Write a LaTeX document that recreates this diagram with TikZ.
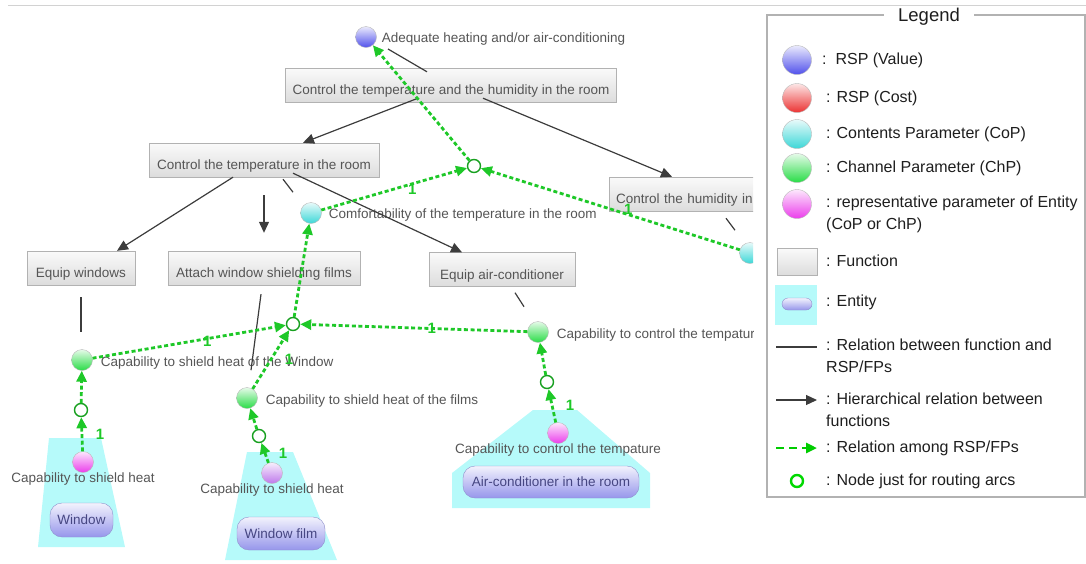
\documentclass[tikz,border=0pt]{standalone}
\usepackage{fontspec}
\setmainfont{Liberation Sans}
\usetikzlibrary{arrows.meta}
\definecolor{txtgray}{RGB}{85,85,85}
\definecolor{legtext}{RGB}{30,30,30}
\definecolor{linegray}{RGB}{60,60,60}
\definecolor{fpgreen}{RGB}{30,200,40}
\definecolor{entcyan}{RGB}{182,250,250}
\definecolor{rspblue}{RGB}{80,80,235}
\definecolor{rspred}{RGB}{235,50,50}
\definecolor{copcyan}{RGB}{60,215,215}
\definecolor{chpgreen}{RGB}{40,220,70}
\definecolor{repmag}{RGB}{235,60,235}
\definecolor{repfilm}{RGB}{190,120,235}
\definecolor{entblue}{RGB}{150,150,235}
\definecolor{enttext}{RGB}{70,70,130}
\newcommand{\dfont}{\fontsize{13.5}{16}\selectfont}
\newcommand{\lfont}{\fontsize{16}{22}\selectfont}
\begin{document}
\begin{tikzpicture}[x=1pt,y=-1pt,>={Triangle[length=11pt,width=10pt]},
  fn/.style={draw=gray!60,top color=gray!4,bottom color=gray!27,text=txtgray,font=\dfont,minimum height=34pt,inner sep=0pt,text height=19pt,text depth=0pt},
  ent/.style={draw=entblue!70!gray,rounded corners=12pt,top color=entblue!12,bottom color=entblue,text=enttext,font=\dfont,inner sep=0pt},
  param/.style={circle,draw=gray!55,minimum size=21pt,inner sep=0pt},
  rspv/.style={param,top color=rspblue!12,bottom color=rspblue},
  rspc/.style={param,top color=rspred!12,bottom color=rspred},
  cop/.style={param,top color=copcyan!12,bottom color=copcyan},
  chp/.style={param,top color=chpgreen!12,bottom color=chpgreen},
  rep/.style={param,top color=repmag!12,bottom color=repmag},
  route/.style={circle,draw=fpgreen!80!black,fill=white,line width=1.4pt,minimum size=13pt,inner sep=0pt},
  lbl/.style={text=txtgray,font=\dfont,inner sep=1pt},
  hier/.style={->,draw=linegray,line width=1.2pt},
  rel/.style={draw=linegray,line width=1.2pt},
  fp/.style={->,draw=fpgreen,line width=2.8pt,dash pattern=on 4pt off 2.6pt},
  one/.style={text=fpgreen,font=\fontsize{15}{15}\selectfont\bfseries,xshift=18pt,inner sep=0pt},
  leg/.style={anchor=west,align=left,font=\lfont,text=legtext,inner sep=0pt}]
  \useasboundingbox (0,0) rectangle (1086,563);
  \draw[gray!35,line width=1pt] (8,5) -- (1086,5);
  \begin{scope}
    \clip (0,0) rectangle (753,563);
    \fill[entcyan] (49,438) -- (101,438) -- (125,547) -- (38,547) -- cycle;
    \fill[entcyan] (247,452) -- (293,452) -- (337,560) -- (225,560) -- cycle;
    \fill[entcyan] (533,410) -- (577,410) -- (650,473) -- (650,508) -- (452,508) -- (452,473) -- cycle;
    \node[fn,minimum width=331pt] (ctrlTH) at (451,85) {Control the temperature and the humidity in the room};
    \node[fn,minimum width=230pt] (ctrlT) at (264,160) {Control the temperature in the room};
    \node[fn,anchor=west,text width=146pt,inner xsep=7pt,align=left] (ctrlH) at (609,194) {Control the humidity in};
    \node[fn,minimum width=108pt] (eqWin) at (81,268) {Equip windows};
    \node[fn,minimum width=192pt] (attFilm) at (264,268) {Attach window shielding films};
    \node[fn,minimum width=146pt] (eqAC) at (502,269.5) {Equip air-conditioner};
    \node[ent,minimum width=63pt,minimum height=34pt] (window) at (81.5,520) {Window};
    \node[ent,minimum width=88pt,minimum height=33pt] (film) at (281,533.5) {Window film};
    \node[ent,minimum width=176pt,minimum height=32pt] (aircon) at (551,482) {Air-conditioner in the room};
    \node[rspv,label={[lbl,label distance=4pt,yshift=-2pt]right:Adequate heating and/or air-conditioning}] (heat) at (366,37) {};
    \node[cop,label={[lbl,label distance=6pt,yshift=-2pt]right:Comfortability of the temperature in the room}] (comfort) at (311,213) {};
    \node[cop] (humid) at (750,253) {};
    \node[chp,label={[lbl,label distance=7pt,yshift=-3pt]right:Capability to shield heat of the Window}] (shieldWin) at (82,360) {};
    \node[chp,label={[lbl,label distance=7pt,yshift=-3pt]right:Capability to shield heat of the films}] (shieldFilm) at (247,398) {};
    \node[chp,label={[lbl,label distance=7pt,yshift=-3pt]right:Capability to control the tempatur}] (ctrlAC) at (538,332) {};
    \node[rep,label={[lbl,label distance=-1pt]below:Capability to shield heat}] (pWin) at (83,462) {};
    \node[param,top color=repfilm!12,bottom color=repfilm,label={[lbl,label distance=-1pt]below:Capability to shield heat}] (pFilm) at (272,473) {};
    \node[rep,label={[lbl,label distance=-1pt]below:Capability to control the tempature}] (pAC) at (558,433) {};
    \node[route] (r1) at (474,166) {};
    \node[route] (r2) at (293,324) {};
    \node[route] (r3) at (81,410) {};
    \node[route] (r4) at (259,436) {};
    \node[route] (r5) at (547,382) {};
    \draw[hier] ([xshift=-33pt,yshift=4pt]ctrlTH.south) -- ([xshift=39pt]ctrlT.north);
    \draw[hier] ([xshift=32pt,yshift=4pt]ctrlTH.south) -- ([xshift=63pt]ctrlH.north west);
    \draw[hier] ([xshift=-31pt]ctrlT.south) -- ([xshift=36pt]eqWin.north);
    \draw[hier] ([xshift=29pt,yshift=4pt]ctrlT.south) -- ([xshift=-40pt]eqAC.north);
    \draw[hier] ([yshift=-18pt]ctrlT.south) -- ([yshift=18pt]attFilm.north);
    \draw[rel] ([xshift=22pt,yshift=-12pt]heat.center) -- ([xshift=-24pt,yshift=-4pt]ctrlTH.north);
    \draw[rel] ([xshift=19pt,yshift=-2pt]ctrlT.south) -- ++(10,13);
    \draw[rel] ([xshift=117pt,yshift=-7pt]ctrlH.south west) -- ++(9,12);
    \draw[rel] ([xshift=13pt,yshift=-6pt]eqAC.south) -- ++(9,14);
    \draw[rel] ([yshift=-12pt]eqWin.south) -- ++(0,35);
    \draw[rel] ([xshift=-3pt,yshift=-9pt]attFilm.south) -- ++(-10,76);
    \draw[fp] (r1) -- (heat);
    \draw[fp] (comfort) -- node[one]{1} (r1);
    \draw[fp] (humid) -- node[one]{1} (r1);
    \draw[fp] (r2) -- (comfort);
    \draw[fp] (shieldWin) -- node[one]{1} (r2);
    \draw[fp] (shieldFilm) -- node[one]{1} (r2);
    \draw[fp] (ctrlAC) -- node[one]{1} (r2);
    \draw[fp] (r3) -- (shieldWin);
    \draw[fp] (pWin) -- node[one]{1} (r3);
    \draw[fp] (r4) -- (shieldFilm);
    \draw[fp] (pFilm) -- node[one]{1} (r4);
    \draw[fp] (r5) -- (ctrlAC);
    \draw[fp] (pAC) -- node[one]{1} (r5);
  \end{scope}
  \draw[gray!60,line width=1.2pt] (767,15) rectangle (1085,497);
  \node[fill=white,font=\fontsize{18.5}{20}\selectfont,text=legtext,inner xsep=14pt,inner ysep=2pt] (legTitle) at (929,17) {Legend};
  \node[rspv,minimum size=29pt] (kValue) at (797,60) {};
  \node[rspc,minimum size=29pt] (kCost) at (797,98) {};
  \node[cop,minimum size=29pt] (kCoP) at (797,134) {};
  \node[chp,minimum size=29pt] (kChP) at (797,168) {};
  \node[rep,minimum size=29pt] (kRep) at (797,204) {};
  \node[fn,minimum width=40pt,minimum height=27pt] (kFn) at (797,261.5) {};
  \fill[entcyan] (775,285) rectangle (817,325);
  \node[ent,minimum width=30pt,minimum height=12pt,rounded corners=6pt] (kEnt) at (797,304) {};
  \draw[rel] (776,347) -- (817,347);
  \draw[hier] (776,400) -- (817,400);
  \draw[fp,draw=green!80!black,dash pattern=on 8pt off 5pt] (776,448) -- (817,448);
  \node[route,draw=green!85!black,line width=2.4pt,minimum size=12pt] (kRoute) at (797,481) {};
  \node[leg] (tValue) at (822,60) {:\ \ RSP (Value)};
  \node[leg] (tCost) at (826,98) {: RSP (Cost)};
  \node[leg] (tCoP) at (826,134) {: Contents Parameter (CoP)};
  \node[leg] (tChP) at (826,168) {: Channel Parameter (ChP)};
  \node[leg] (tRep) at (826,214) {: representative parameter of Entity\\(CoP or ChP)};
  \node[leg] (tFn) at (826,261) {: Function};
  \node[leg] (tEnt) at (826,302) {: Entity};
  \node[leg] (tRel) at (826,356) {: Relation between function and\\RSP/FPs};
  \node[leg] (tHier) at (826,410) {: Hierarchical relation between\\functions};
  \node[leg] (tFP) at (826,448) {: Relation among RSP/FPs};
  \node[leg] (tRoute) at (826,481) {: Node just for routing arcs};
\end{tikzpicture}
\end{document}
